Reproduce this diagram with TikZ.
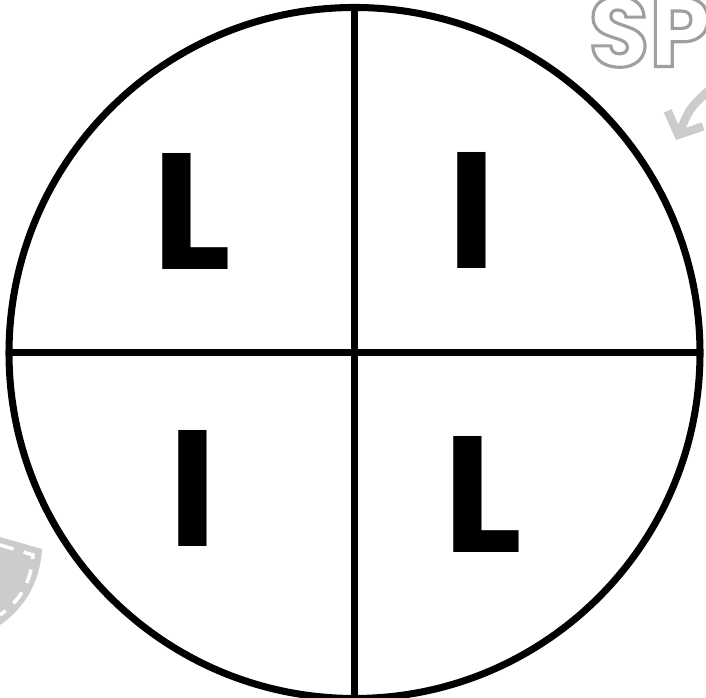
\documentclass[tikz,border=0pt]{standalone}
\usepackage{fontspec}
\setmainfont{Poppins}
\usetikzlibrary{arrows.meta}

\begin{document}
\begin{tikzpicture}[
    x=0.01cm, y=0.01cm,
    every node/.style={inner sep=0pt},
    ring/.style={line width=2pt, black},
    letter/.style={font=\fontsize{47}{47}\selectfont\bfseries},
    deco/.style={gray!40},
]

% === Frame (image size in px) ===
\def\imgW{706}
\def\imgH{698}
\useasboundingbox (0,0) rectangle (\imgW,\imgH);
\clip (0,0) rectangle (\imgW,\imgH);

% === Circle dimensions ===
\def\cx{354.5}     % centre x
\def\cy{345}       % centre y
\def\rad{345.5}    % radius

% === Background decorations ===
% Outline lettering, top right
\node[anchor=south west, font=\fontsize{28}{28}\selectfont\bfseries, text=gray!75]
    (word) at (588,630)
    {\special{pdf:literal direct 1 Tr 0.9 w}SP\special{pdf:literal direct 0 Tr}};
% Curved arrow
\coordinate (arrowA) at (708,607);
\coordinate (arrowB) at (676,558);
\draw[deco, line width=2.4pt, -{Straight Barb[length=5pt,width=11pt]}]
    (arrowA) .. controls (690,590) .. (arrowB);
% Patch with stitching, lower left
\fill[deco] (0,161) -- (42,149) .. controls (40,113) and (22,88) .. (0,73) -- cycle;
\draw[white, line width=1pt, dash pattern=on 4pt off 3pt]
    (0,153) -- (33,143) .. controls (31,113) and (18,96) .. (0,83);

% === Circle split into four ===
\coordinate (c) at (\cx,\cy);
\coordinate (top) at (\cx,{\cy+\rad});
\coordinate (bot) at (\cx,{\cy-\rad});
\coordinate (lft) at ({\cx-\rad},\cy);
\coordinate (rgt) at ({\cx+\rad},\cy);
\draw[ring] (c) circle (\rad);
\draw[ring] (top) -- (bot);
\draw[ring] (lft) -- (rgt);

% === Letters ===
\node[letter] (qTL) at (192,486) {L};
\node[letter] (qTR) at (472,487) {I};
\node[letter] (qBL) at (193,210) {I};
\node[letter] (qBR) at (483,203) {L};

\end{tikzpicture}
\end{document}
